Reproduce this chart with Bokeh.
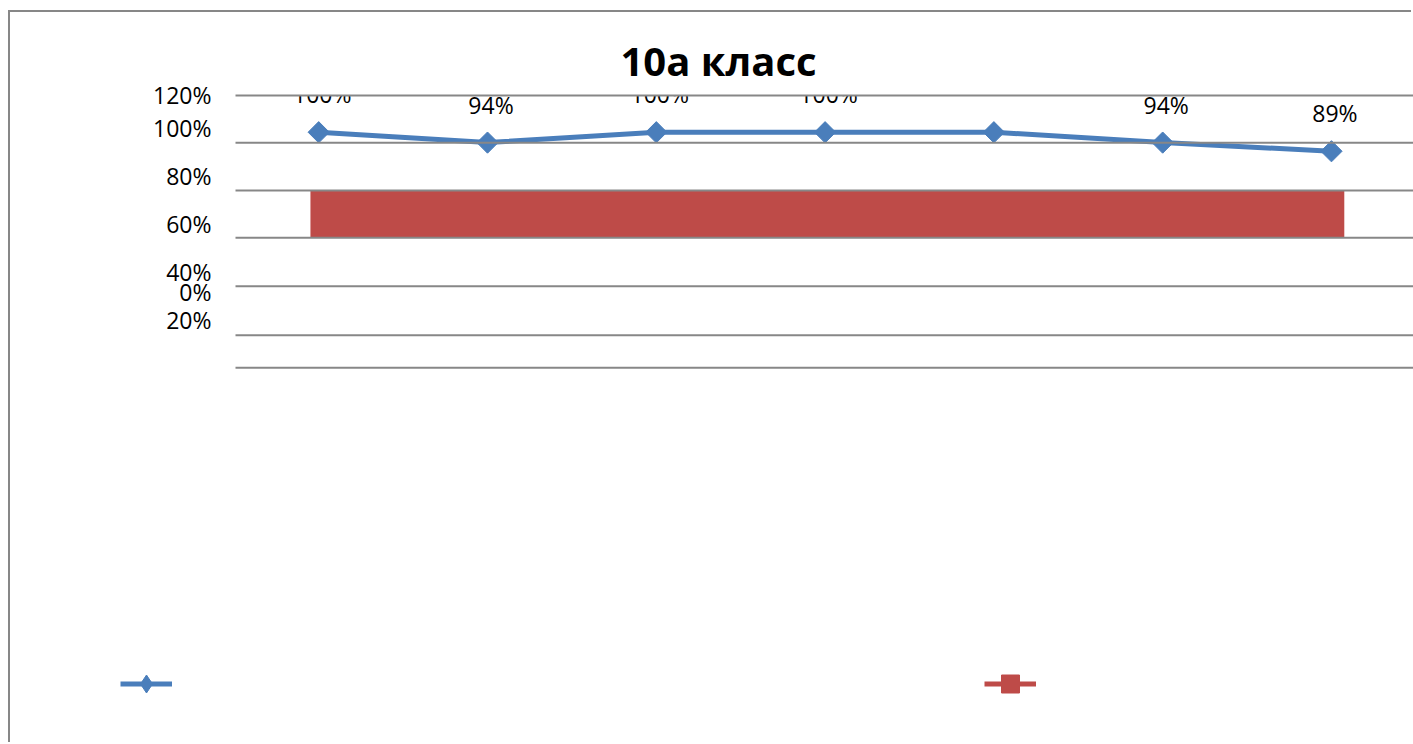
import math
from bokeh.plotting import figure
from bokeh.models import Range1d, Legend, LegendItem
from bokeh.core.properties import value
from bokeh.embed import file_html
from bokeh.resources import INLINE

# ---------------- data ----------------
title_text = "10а класс"
categories = [0, 1, 2, 3, 4, 5, 6]
line_values = [100, 94, 100, 100, 100, 94, 89]
label_shown = [True, True, True, True, False, True, True]

# red band (second series), in category / value units
band_start = [-0.049]
band_end = [6.076]
band_low = [39.2]
band_high = [66.0]

# (misplaced) axis labels as they appear on the chart
tick_positions = [121.7, 102.3, 74.9, 47.0, 19.4, 7.5, -8.3]
tick_labels = ["120%", "100%", "80%", "60%", "40%", "0%", "20%"]
grid_positions = [121.2, 93.9, 66.3, 39.0, 11.0, -17.3, -36.2]

# plot-area extent in category units
area_left = -0.493
area_right = 6.486

point_labels = [f"{v}%" if s else "" for v, s in zip(line_values, label_shown)]

BLUE = "#4A7EBB"
RED = "#BE4B48"
GRID = "#878787"
FONT = "Open Sans"

Y_TOP = 129.9
p = figure(width=1403, height=732, output_backend="svg", toolbar_location=None,
           tools="", x_range=Range1d(-1.826, area_right),
           y_range=Range1d(-249.3, Y_TOP), x_axis_location=None,
           y_axis_location=None, min_border_left=0, min_border_right=0,
           min_border_top=68, min_border_bottom=8, outline_line_color=None,
           title=title_text)
p.grid.visible = False
p.styles = {"margin-left": "10px", "margin-top": "12px",
            "box-shadow": "-2px -2px 0 0 #878787"}

p.title.align = "left"
p.title.offset = 610
p.title.standoff = -15
p.title.text_font = FONT
p.title.text_font_size = "40px"
p.title.text_font_style = "bold"
p.title.text_color = "black"

# series
p.quad(left=band_start, right=band_end, bottom=band_low, top=band_high,
       fill_color=RED, line_color=None)
blue_line = p.line(categories, line_values, line_color=BLUE, line_width=5)
p.scatter(categories, line_values, marker="square", size=15, angle=math.pi / 4,
          fill_color=BLUE, line_color=BLUE)
p.text(x=categories, y=line_values, text=point_labels, x_offset=3.5,
       y_offset=-38, text_align="center", text_baseline="middle",
       text_font=value(FONT), text_font_size="23px", text_color="black")

# plot-area top edge: data labels are cut off there
p.quad(left=[area_left], right=[area_right], bottom=[grid_positions[0]],
       top=[Y_TOP], fill_color="white", line_color=None)

# gridlines of the plot area
n = len(grid_positions)
p.segment(x0=[area_left] * n, x1=[area_right] * n, y0=grid_positions,
          y1=grid_positions, line_color=GRID, line_width=2)

# value-axis labels
p.text(x=[area_left] * len(tick_positions), y=tick_positions, text=tick_labels,
       x_offset=-24, text_align="right", text_baseline="middle",
       text_font=value(FONT), text_font_size="23px", text_color="black")

# legend-only (hidden) renderers
lb_mark = p.scatter(categories, line_values, marker="diamond", size=18,
                    fill_color=BLUE, line_color=BLUE, visible=False)
lr_line = p.line(categories, line_values, line_color=RED, line_width=5,
                 visible=False)
lr_mark = p.scatter(categories, line_values, marker="square", size=18,
                    fill_color=RED, line_color=RED, visible=False)

legend = Legend(items=[LegendItem(label=" ", renderers=[blue_line, lb_mark]),
                       LegendItem(label=" ", renderers=[lr_line, lr_mark])],
                location=(110, 30), orientation="horizontal",
                glyph_width=52, glyph_height=45, spacing=812, padding=0,
                margin=0, label_standoff=0, label_width=0,
                label_text_font_size="1px", border_line_color=None,
                background_fill_alpha=0, click_policy="none")
p.add_layout(legend)

open("out.html", "w").write(file_html(p, INLINE))
